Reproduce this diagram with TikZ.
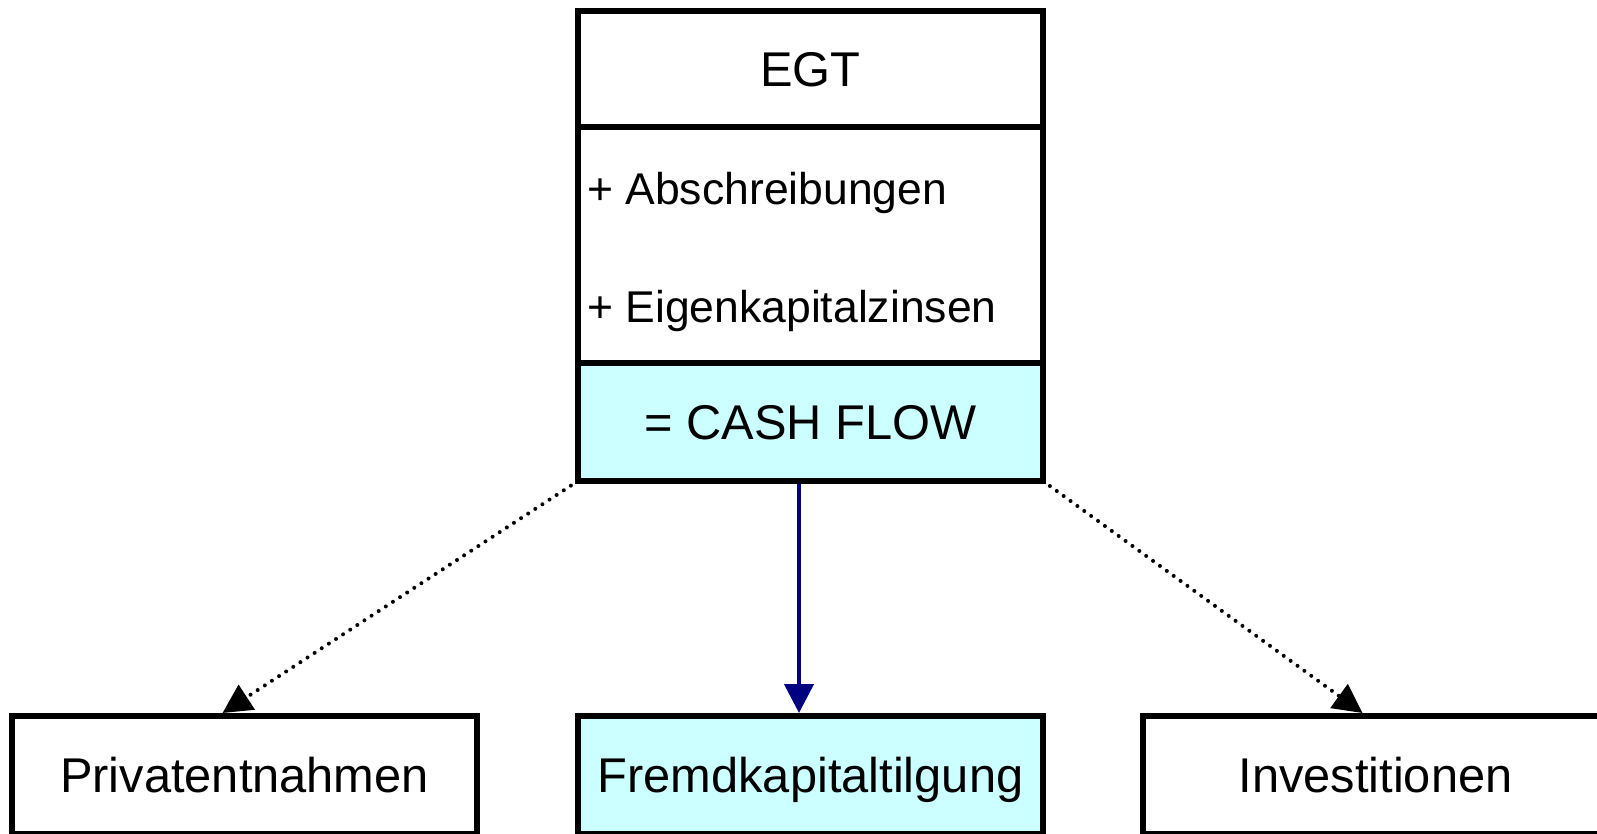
\documentclass[tikz,border=0pt]{standalone}
\usepackage{fontspec}
\setmainfont{Liberation Sans}
\usepackage{tikz}
\usetikzlibrary{arrows.meta,positioning,calc}
\definecolor{cashcyan}{RGB}{204,255,255}
\definecolor{flownavy}{RGB}{0,0,128}

\begin{document}
\begin{tikzpicture}[
    x=1pt, y=-1pt,
    node distance=100pt,
    box/.style={rectangle, draw, line width=5.5pt, minimum width=465pt, inner sep=0pt, outer sep=0pt, font=\fontsize{48.8}{58}\selectfont, text height=34pt, text depth=0pt},
    row/.style={box, minimum height=116pt},
    listrow/.style={box, minimum height=236pt},
    cashrow/.style={box, minimum height=118pt, fill=cashcyan},
    target/.style={box, minimum height=118pt},
    item/.style={inner sep=0pt, anchor=west, font=\fontsize{44.5}{54}\selectfont, text height=32pt, text depth=0pt},
    tip/.style={-{Triangle[length=29pt,width=29pt]}},
    dotarrow/.style={tip, line width=4pt, line cap=round, dash pattern=on 0pt off 8.5pt},
    mainarrow/.style={tip, line width=4.5pt, draw=flownavy, fill=flownavy}
]
\useasboundingbox (0,0) rectangle (1597,833);

% Top box: EGT plus additions
\node[row] (egt) at (810.5,69) {EGT};
\node[listrow, below=0pt of egt] (adds) {};
\node[item] (abschr) at ($(adds.west)+(9,-57)$) {+ Abschreibungen};
\node[item] (ekzins) at ($(adds.west)+(9,61)$) {+ Eigenkapitalzinsen};
\node[cashrow, below=0pt of adds] (cash) {= CASH FLOW};

% Uses of the cash flow
\node[target, fill=cashcyan] (tilgung) at (810.5,775) {Fremdkapitaltilgung};
\node[target, left=101pt of tilgung] (private) {Privatentnahmen};
\node[target, right=of tilgung] (invest) {Investitionen};

% Connectors
\draw[dotarrow] (cash.south west) -- ($(private.north)+(-22,-3)$);
\draw[mainarrow] ($(cash.south)+(-11.5,3)$) -- ($(tilgung.north)+(-11.5,-3)$);
\draw[dotarrow] (cash.south east) -- ($(invest.north)+(-13,-3)$);

\end{tikzpicture}
\end{document}
